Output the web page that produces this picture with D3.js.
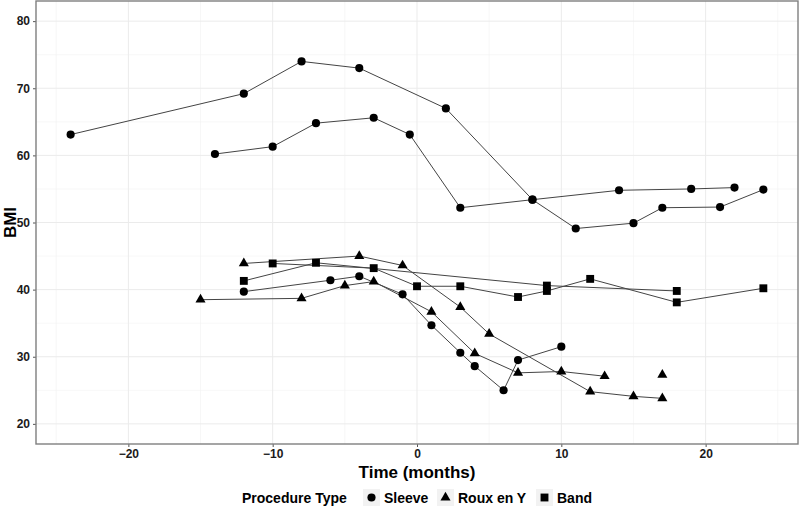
<!DOCTYPE html>
<html>
<head>
<meta charset="utf-8">
<script src="https://cdn.jsdelivr.net/npm/d3@7"></script>
<style>
  html, body { margin: 0; padding: 0; background: #fff; }
  svg { display: block; }
  text { font-family: "Liberation Sans", Arial, sans-serif; font-weight: bold; }
</style>
</head>
<body>
<svg id="chart" width="800" height="513"></svg>
<script>
// ---- Data ----
const xTicks = [-20, -10, 0, 10, 20];
const yTicks = [20, 30, 40, 50, 60, 70, 80];
const procedureTypes = ["Sleeve", "Roux en Y", "Band"];

const sleeveA_months = [-24, -12, -8, -4, 2, 8, 11, 15, 17, 21, 24];
const sleeveA_bmi    = [63.1, 69.2, 74.0, 73.0, 67.0, 53.4, 49.1, 49.9, 52.2, 52.3, 54.9];

const sleeveB_months = [-14, -10, -7, -3, -0.5, 3, 8, 14, 19, 22];
const sleeveB_bmi    = [60.2, 61.3, 64.8, 65.6, 63.1, 52.2, 53.4, 54.8, 55.0, 55.2];

const sleeveC_months = [-12, -6, -4, -1, 1, 3, 4, 6, 7, 10];
const sleeveC_bmi    = [39.7, 41.4, 42.0, 39.3, 34.7, 30.6, 28.6, 25.0, 29.5, 31.5];

const rouxA_months = [-12, -4, -1, 3, 5, 12, 15, 17];
const rouxA_bmi    = [43.9, 45.0, 43.6, 37.4, 33.4, 24.8, 24.1, 23.8];

const rouxB_months = [-15, -8, -5, -3, 1, 4, 7, 10, 13];
const rouxB_bmi    = [38.5, 38.7, 40.6, 41.2, 36.7, 30.5, 27.6, 27.8, 27.1];

const rouxC_months = [17];
const rouxC_bmi    = [27.3];

const bandA_months = [-12, -7, 9, 18];
const bandA_bmi    = [41.3, 44.0, 40.6, 39.8];

const bandB_months = [-10, -3, 0, 3, 7, 9, 12, 18, 24];
const bandB_bmi    = [43.9, 43.2, 40.5, 40.5, 38.9, 39.8, 41.6, 38.1, 40.2];

const series = [
  { type: "Sleeve",    months: sleeveA_months, bmi: sleeveA_bmi },
  { type: "Sleeve",    months: sleeveB_months, bmi: sleeveB_bmi },
  { type: "Sleeve",    months: sleeveC_months, bmi: sleeveC_bmi },
  { type: "Roux en Y", months: rouxA_months,   bmi: rouxA_bmi },
  { type: "Roux en Y", months: rouxB_months,   bmi: rouxB_bmi },
  { type: "Roux en Y", months: rouxC_months,   bmi: rouxC_bmi },
  { type: "Band",      months: bandA_months,   bmi: bandA_bmi },
  { type: "Band",      months: bandB_months,   bmi: bandB_bmi }
];

// ---- Layout ----
const svg = d3.select("#chart");
const panel = { left: 36, right: 798, top: 1, bottom: 444 };

const x = d3.scaleLinear().domain([-26.4, 26.4]).range([panel.left, panel.right]);
const y = d3.scaleLinear().domain([17, 83]).range([panel.bottom, panel.top]);

const symbolFor = {
  "Sleeve":    d3.symbol().type(d3.symbolCircle).size(52),
  "Roux en Y": d3.symbol().type(d3.symbolTriangle).size(44),
  "Band":      d3.symbol().type(d3.symbolSquare).size(62)
};

svg.append("rect")
  .attr("x", panel.left).attr("y", panel.top)
  .attr("width", panel.right - panel.left).attr("height", panel.bottom - panel.top)
  .attr("fill", "#fff");

// grid
const g = svg.append("g");
const xMinor = d3.range(-25, 26, 5).filter(v => v % 10 !== 0);
const yMinor = d3.range(15, 85, 5).filter(v => v % 10 !== 0 && v > 17 && v < 83);
g.selectAll(".vminor").data(xMinor).join("line")
  .attr("x1", d => x(d)).attr("x2", d => x(d))
  .attr("y1", panel.top).attr("y2", panel.bottom)
  .attr("stroke", "#f2f2f2").attr("stroke-width", 0.6);
g.selectAll(".hminor").data(yMinor).join("line")
  .attr("y1", d => y(d)).attr("y2", d => y(d))
  .attr("x1", panel.left).attr("x2", panel.right)
  .attr("stroke", "#f2f2f2").attr("stroke-width", 0.6);
g.selectAll(".vmajor").data(xTicks).join("line")
  .attr("x1", d => x(d)).attr("x2", d => x(d))
  .attr("y1", panel.top).attr("y2", panel.bottom)
  .attr("stroke", "#ebebeb").attr("stroke-width", 1);
g.selectAll(".hmajor").data(yTicks).join("line")
  .attr("y1", d => y(d)).attr("y2", d => y(d))
  .attr("x1", panel.left).attr("x2", panel.right)
  .attr("stroke", "#ebebeb").attr("stroke-width", 1);

// axes
const xAxis = d3.axisBottom(x).tickValues(xTicks).tickSize(3).tickPadding(2).tickFormat(d3.format("d"));
const yAxis = d3.axisLeft(y).tickValues(yTicks).tickSize(3).tickPadding(3).tickFormat(d3.format("d"));

const gx = svg.append("g").attr("transform", `translate(0,${panel.bottom})`).call(xAxis);
const gy = svg.append("g").attr("transform", `translate(${panel.left},0)`).call(yAxis);
[gx, gy].forEach(ax => {
  ax.select(".domain").remove();
  ax.selectAll("line").attr("stroke", "#555");
  ax.selectAll("text").attr("fill", "#1a1a1a").style("font-size", "12px").style("font-weight", "bold")
    .style("font-family", "'Liberation Sans', Arial, sans-serif");
});

// lines
const line = d3.line().x(d => x(d[0])).y(d => y(d[1]));
svg.append("g").selectAll("path").data(series).join("path")
  .attr("d", s => line(s.months.map((m, i) => [m, s.bmi[i]])))
  .attr("fill", "none").attr("stroke", "#444").attr("stroke-width", 1);

// points
series.forEach(s => {
  svg.append("g").selectAll("path").data(s.months.map((m, i) => [m, s.bmi[i]])).join("path")
    .attr("d", symbolFor[s.type])
    .attr("transform", d => `translate(${x(d[0])},${y(d[1])})`)
    .attr("fill", "#000");
});

// panel border
svg.append("rect")
  .attr("x", panel.left).attr("y", panel.top)
  .attr("width", panel.right - panel.left).attr("height", panel.bottom - panel.top)
  .attr("fill", "none").attr("stroke", "#7f7f7f").attr("stroke-width", 1.4);

// axis titles
svg.append("text").attr("x", (panel.left + panel.right) / 2).attr("y", 478)
  .attr("text-anchor", "middle").style("font-size", "17px").attr("fill", "#000")
  .text("Time (months)");
svg.append("text").attr("transform", `translate(16,${(panel.top + panel.bottom) / 2}) rotate(-90)`)
  .attr("text-anchor", "middle").style("font-size", "17px").attr("fill", "#000")
  .text("BMI");

// legend
const legY = 498;
const leg = svg.append("g");
leg.append("text").attr("x", 242).attr("y", legY + 5).style("font-size", "14px").attr("fill", "#000")
  .text("Procedure Type");
const keyX = [363, 437, 536];
const labX = [384, 458, 557];
procedureTypes.forEach((t, i) => {
  leg.append("rect").attr("x", keyX[i]).attr("y", legY - 9).attr("width", 17).attr("height", 17).attr("fill", "#f2f2f2");
  leg.append("path").attr("d", symbolFor[t]).attr("transform", `translate(${keyX[i] + 8.5},${legY - 0.5})`).attr("fill", "#000");
  leg.append("text").attr("x", labX[i]).attr("y", legY + 5).style("font-size", "14px").attr("fill", "#000").text(t);
});
</script>
</body>
</html>
